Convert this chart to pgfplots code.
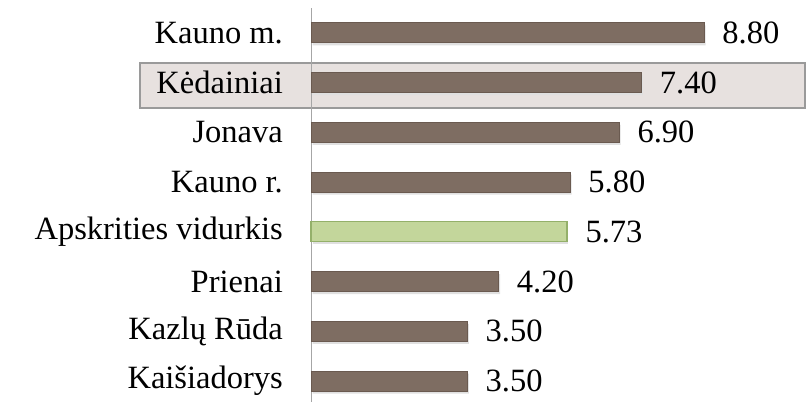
\documentclass[border=0pt]{standalone}
\usepackage{pgfplots}
\pgfplotsset{compat=1.18}
\usepackage{fontspec}
\setmainfont{Liberation Serif}
\definecolor{barbrown}{HTML}{7E6D62}
\definecolor{barbrownedge}{HTML}{6A5A50}
\definecolor{bargreen}{HTML}{C3D69B}
\definecolor{bargreenedge}{HTML}{94B06A}
\definecolor{hlfill}{HTML}{E7E1DF}
\definecolor{hledge}{HTML}{9A9A9A}
\begin{document}
\fontsize{32.5bp}{38bp}\selectfont
\begin{tikzpicture}
\useasboundingbox (0,0) rectangle (806bp,402bp);
\fill[hlfill] (140bp,294bp) rectangle (805bp,339bp);
\draw[hledge, line width=1.5bp] (140bp,294bp) rectangle (805bp,339bp);
\begin{axis}[
  at={(311bp,0bp)}, anchor=south west,
  scale only axis,
  width=446.6bp, height=394bp,
  xmin=0, xmax=10,
  ymin=-0.42, ymax=7.5,
  clip=false,
  axis x line=none,
  axis y line*=left,
  y axis line style={draw=gray!70, line width=1pt, -},
  ytick={0,1,2,3,4,5,6,7},
  yticklabels={Kaišiadorys, Kazlų Rūda, Prienai, Apskrities vidurkis, Kauno r., Jonava, Kėdainiai, Kauno m.},
  major tick length=0pt,
  yticklabel style={inner sep=0pt, anchor=east, xshift=-28bp, font=\fontsize{32.5bp}{38bp}\selectfont},
  xbar, bar width=20bp, bar shift=0pt,
  /pgf/number format/assume math mode=true,
  /pgf/number format/fixed,
  /pgf/number format/fixed zerofill,
  /pgf/number format/precision=2,
  nodes near coords,
  every node near coord/.append style={anchor=west, inner sep=0pt, xshift=18bp, font=\fontsize{32.5bp}{38bp}\selectfont, text=black},
]
\addplot[fill=barbrown, draw=barbrownedge, line width=0.8bp,
  preaction={draw=none, fill=black!12, transform canvas={xshift=1.5bp, yshift=-2.5bp}}] coordinates {
  (3.50,0) (3.50,1) (4.20,2) (5.80,4) (6.90,5) (7.40,6) (8.80,7)
};
\addplot[fill=bargreen, draw=bargreenedge, line width=1.2bp,
  preaction={draw=none, fill=black!12, transform canvas={xshift=1.5bp, yshift=-2.5bp}}] coordinates {
  (5.73,3)
};
\end{axis}
\end{tikzpicture}
\end{document}
